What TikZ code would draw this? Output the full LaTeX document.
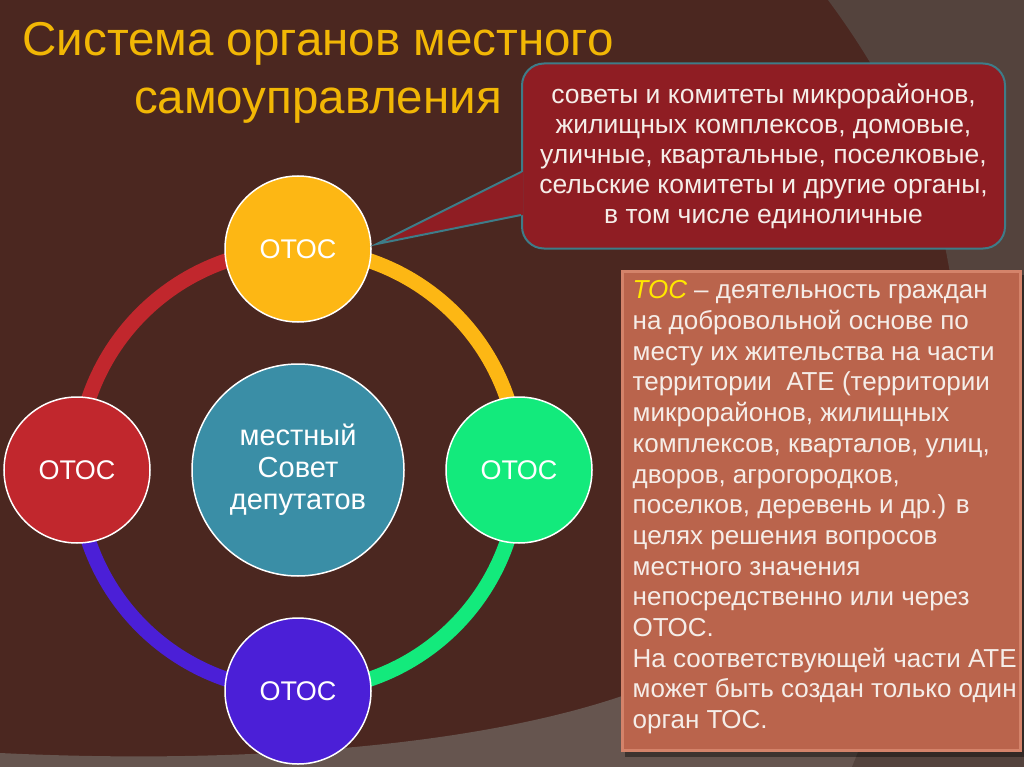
\documentclass[tikz,border=0pt]{standalone}
\usepackage{fontspec}
\setmainfont{Liberation Sans}
\usetikzlibrary{backgrounds,calc}

\definecolor{bgbrown}{HTML}{4B2720}
\definecolor{bggrey}{HTML}{66554F}
\definecolor{bgside}{HTML}{54433D}
\definecolor{otosred}{HTML}{C1272D}
\definecolor{otosyellow}{HTML}{FDB714}
\definecolor{otosgreen}{HTML}{13EA7C}
\definecolor{otospurple}{HTML}{4B1FD7}
\definecolor{sovetteal}{HTML}{3A8EA6}
\definecolor{calloutred}{HTML}{8F1D23}
\definecolor{calloutedge}{HTML}{3E7C88}
\definecolor{tosfill}{HTML}{BA644C}
\definecolor{tosedge}{HTML}{D4836A}
\definecolor{paletext}{HTML}{F5EDE8}
\definecolor{tosyellow}{HTML}{FFE800}
\definecolor{titleyellow}{HTML}{F2B705}

\tikzset{
  organ/.style={circle, draw=white, line width=1.5pt, minimum size=146pt,
    inner sep=0pt, text=white, font=\fontsize{27}{30}\selectfont},
  ring/.style={line width=15pt},
  boxtext/.style={text=paletext, font=\fontsize{26}{30.7}\selectfont, inner sep=0pt},
}

\begin{document}
\begin{tikzpicture}[x=1pt, y=1pt, node distance=221pt]
  \useasboundingbox (0,0) rectangle (1024,-767);
  \begin{pgfonlayer}{background}
    \fill[bgbrown] (0,0) rectangle (1024,-767);
    \fill[bggrey] (0,-753) .. controls (250,-765) and (480,-745) .. (625,-695)
      .. controls (800,-640) and (950,-600) .. (1024,-590) -- (1024,-767) -- (0,-767) -- cycle;
    \fill[bgside] (828,0) -- (1024,0) -- (1024,-767) -- (852,-767)
      .. controls (920,-600) and (975,-400) .. (948,-262)
      .. controls (930,-160) and (880,-70) .. (828,0) -- cycle;
  \end{pgfonlayer}

  % title
  \node[align=center, text=titleyellow, font=\fontsize{47.5}{58}\selectfont] (title) at (318,-73)
    {Система органов местного\\самоуправления};

  % circles
  \node[circle, draw=white, line width=1.5pt, fill=sovetteal, minimum size=212pt,
    text=white, align=center, font=\fontsize{29}{32}\selectfont] (sovet) at (298,-470)
    {местный\\Совет\\депутатов};
  \node[organ, fill=otosyellow, above of=sovet] (top) {ОТОС};
  \node[organ, fill=otosgreen, right of=sovet] (right) {ОТОС};
  \node[organ, fill=otospurple, below of=sovet] (bottom) {ОТОС};
  \node[organ, fill=otosred, left of=sovet] (left) {ОТОС};

  \begin{pgfonlayer}{background}
    \draw[ring, otosyellow] (top.center) to[out=0, in=90] (right.center);
    \draw[ring, otosgreen] (right.center) to[out=-90, in=0] (bottom.center);
    \draw[ring, otospurple] (bottom.center) to[out=180, in=-90] (left.center);
    \draw[ring, otosred] (left.center) to[out=90, in=180] (top.center);
  \end{pgfonlayer}

  % callout
  \node[rectangle, rounded corners=22pt, fill=calloutred, draw=calloutedge, line width=2pt,
    minimum width=483pt, minimum height=185pt, align=center, text=paletext,
    font=\fontsize{26.5}{30}\selectfont] (kinds) at (763.5,-156)
    {советы и комитеты микрорайонов,\\
     жилищных комплексов, домовые,\\
     уличные, квартальные, поселковые,\\
     сельские комитеты и другие органы,\\
     в том числе единоличные};
  \coordinate (tip) at ([shift={(5,5)}]top.east);
  \fill[calloutred] ($(kinds.west)+(2,-16)$) -- (tip) -- ($(kinds.west)+(2,-59)$) -- cycle;
  \draw[calloutedge, line width=2pt] ($(kinds.west)+(0,-16)$) -- (tip) -- ($(kinds.west)+(0,-59)$);

  % TOC definition
  \node[rectangle, fill=tosfill, draw=tosedge, line width=3pt,
    minimum width=398pt, minimum height=479pt] (tos) at (821,-510.5) {};
  \begin{pgfonlayer}{background}
    \fill[black, opacity=.4] ([shift={(4,-5)}]tos.south west) rectangle ([shift={(4,-5)}]tos.north east);
  \end{pgfonlayer}
  \node[boxtext, anchor=north west, align=left] (tostext) at ([shift={(12,-11)}]tos.north west)
    {{\color{tosyellow}\itshape ТОС} – деятельность граждан\\
     на добровольной основе по\\
     месту их жительства на части\\
     территории \ АТЕ (территории\\
     микрорайонов, жилищных\\
     комплексов, кварталов, улиц,\\
     дворов, агрогородков,\\
     поселков, деревень и др.) в\\
     целях решения вопросов\\
     местного значения\\
     непосредственно или через\\
     ОТОС.\\
     На соответствующей части АТЕ\\
     может быть создан только один\\
     орган ТОС.};
\end{tikzpicture}
\end{document}
